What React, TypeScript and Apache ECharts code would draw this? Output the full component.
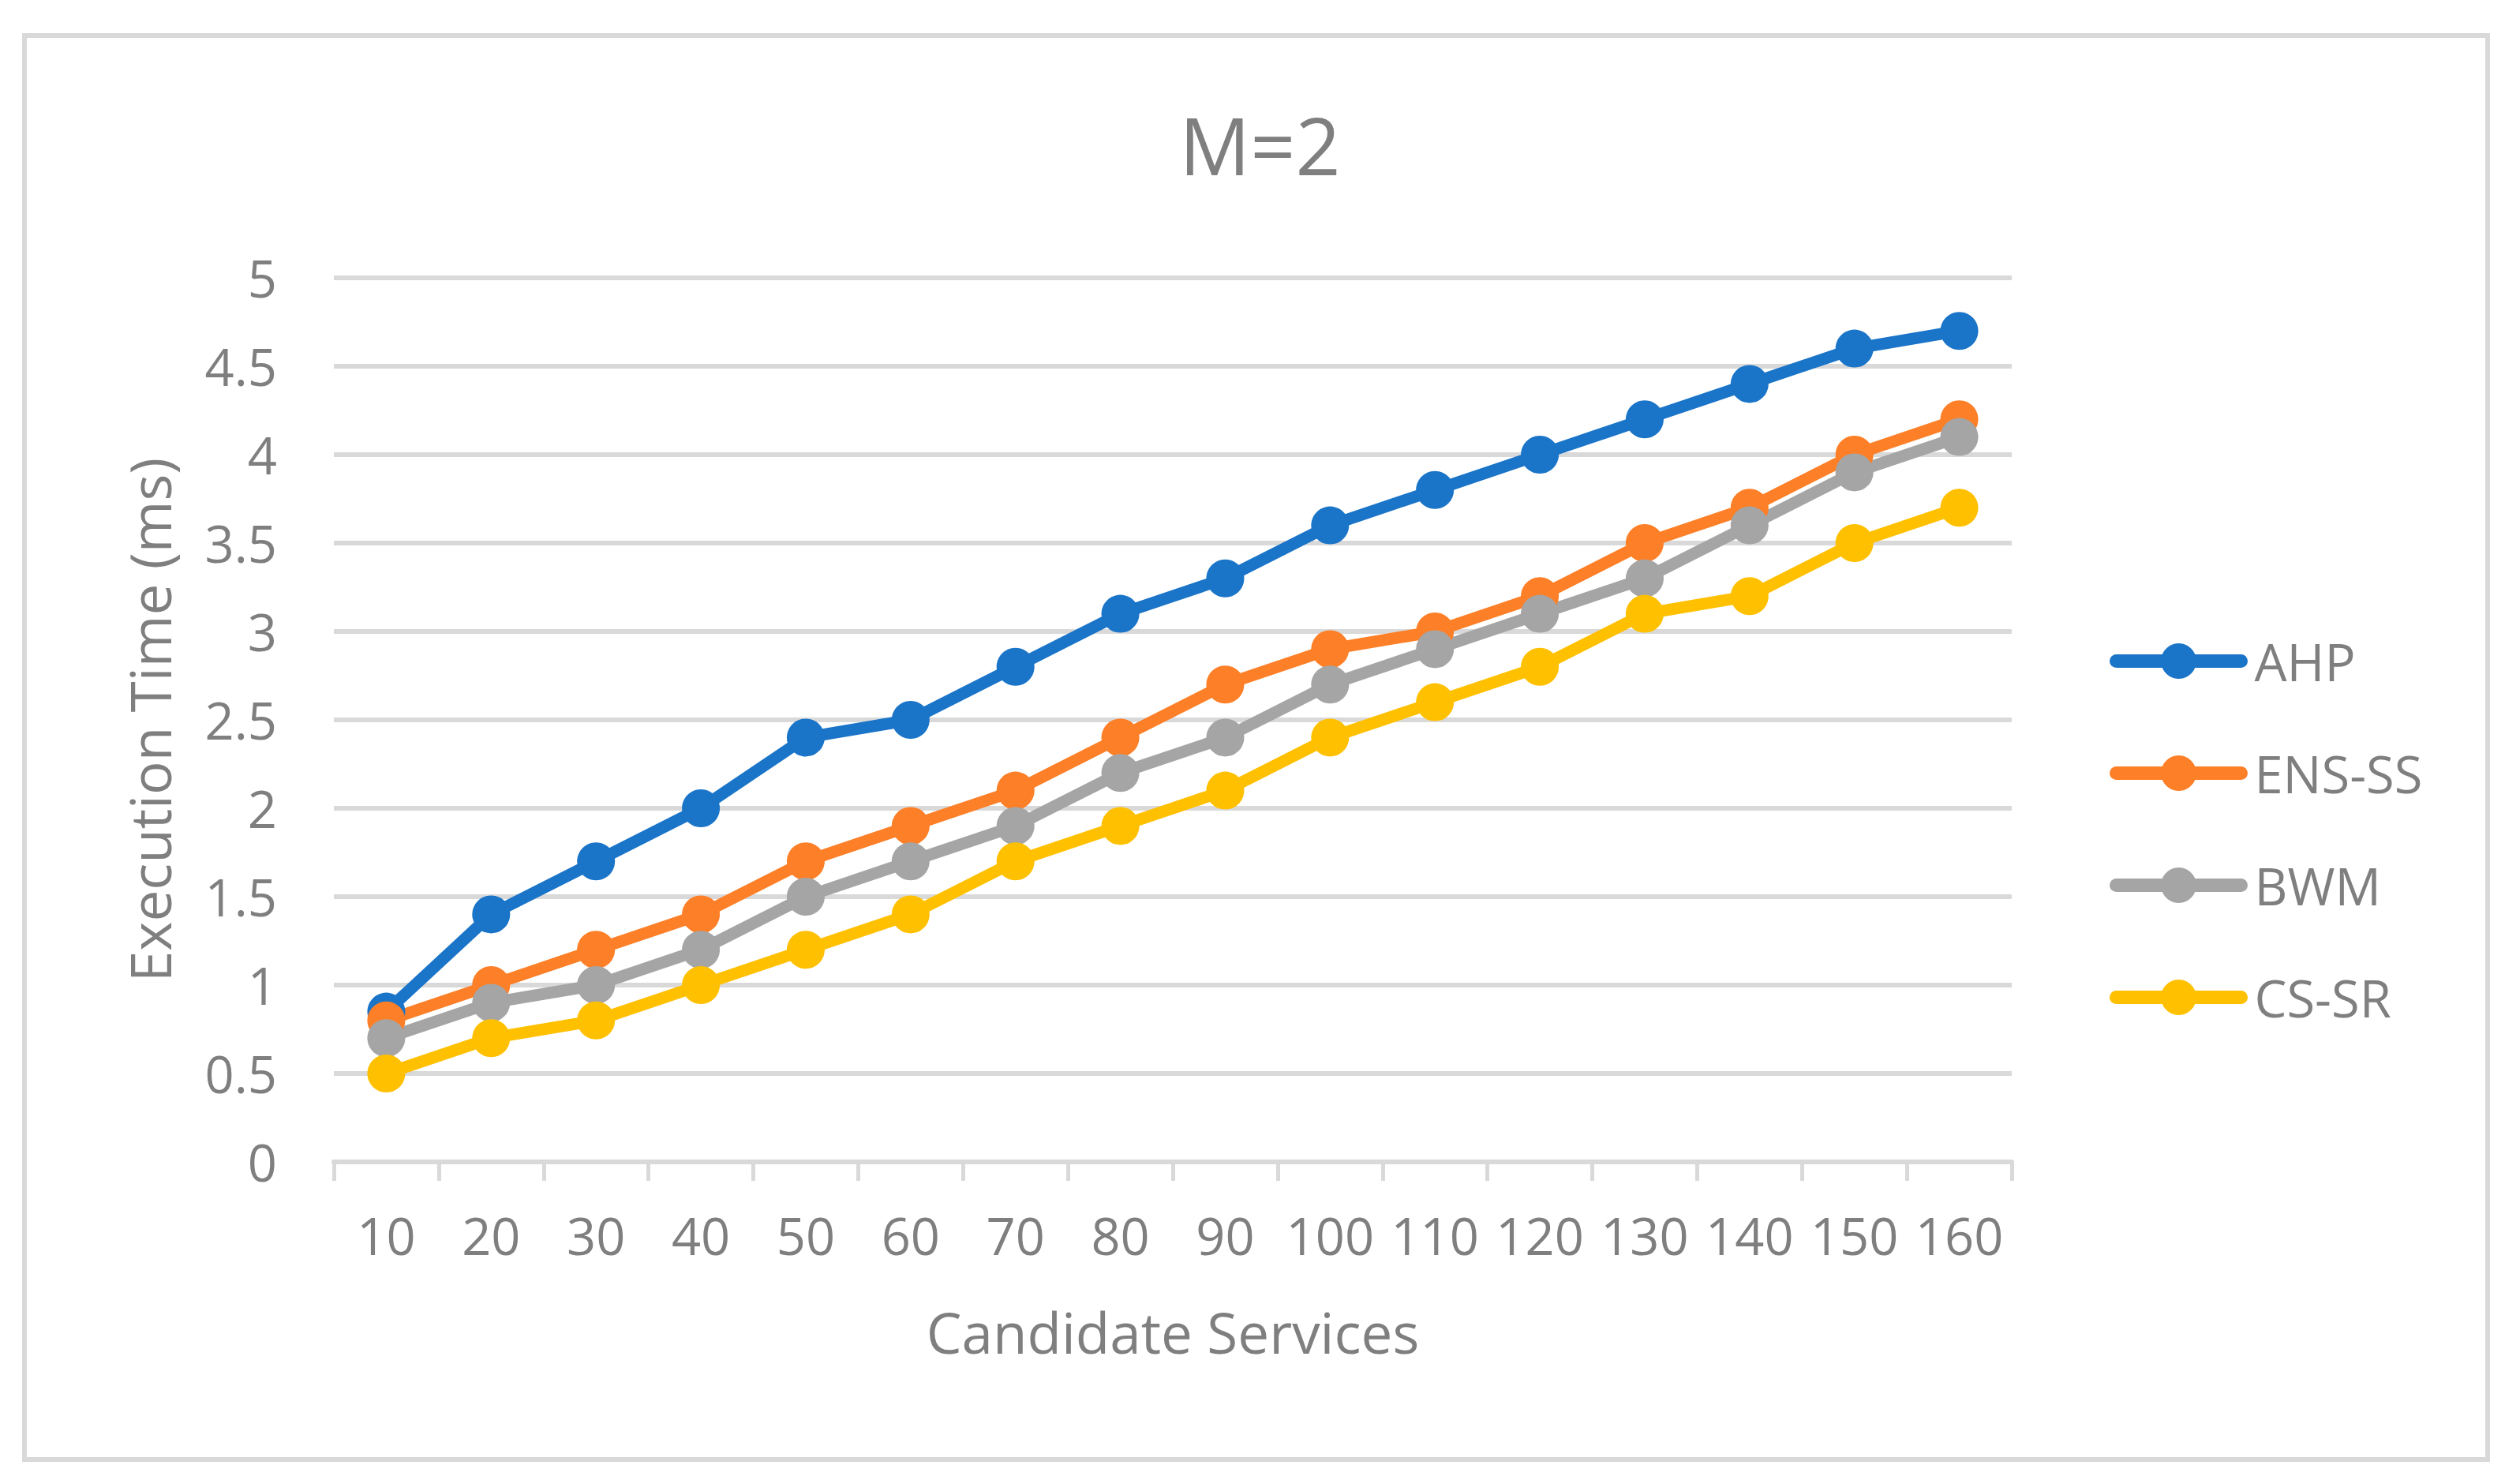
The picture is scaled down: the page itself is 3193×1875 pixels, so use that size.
import React, { useEffect, useRef } from "react";
import * as echarts from "echarts";

const categories = ["10", "20", "30", "40", "50", "60", "70", "80", "90", "100", "110", "120", "130", "140", "150", "160"];
const ahp = [0.85, 1.4, 1.7, 2.0, 2.4, 2.5, 2.8, 3.1, 3.3, 3.6, 3.8, 4.0, 4.2, 4.4, 4.6, 4.7];
const ensSs = [0.8, 1.0, 1.2, 1.4, 1.7, 1.9, 2.1, 2.4, 2.7, 2.9, 3.0, 3.2, 3.5, 3.7, 4.0, 4.2];
const bwm = [0.7, 0.9, 1.0, 1.2, 1.5, 1.7, 1.9, 2.2, 2.4, 2.7, 2.9, 3.1, 3.3, 3.6, 3.9, 4.1];
const csSr = [0.5, 0.7, 0.8, 1.0, 1.2, 1.4, 1.7, 1.9, 2.1, 2.4, 2.6, 2.8, 3.1, 3.2, 3.5, 3.7];

const seriesNames = ["AHP", "ENS-SS", "BWM", "CS-SR"];
const seriesData = [ahp, ensSs, bwm, csSr];
const colors = ["#1A74C8", "#FD7F27", "#A5A5A5", "#FFC000"];

const FONT = "'Open Sans', 'Noto Sans', sans-serif";
const TEXT = "#7F7F7F";
const GRID = "#D9D9D9";

export default function App() {
  const ref = useRef<HTMLDivElement>(null);
  useEffect(() => {
    if (!ref.current) return;
    const chart = echarts.init(ref.current, null, { renderer: "svg" });
    chart.setOption({
      animation: false,
      backgroundColor: "#FFFFFF",
      textStyle: { fontFamily: FONT, color: TEXT },
      title: {
        text: "M=2",
        left: "center",
        top: 128,
        textStyle: { fontSize: 100, fontWeight: "normal", color: TEXT, fontFamily: FONT },
      },
      graphic: [
        {
          type: "rect",
          z: -10,
          silent: true,
          shape: { x: 31, y: 45, width: 3121, height: 1804 },
          style: { fill: "none", stroke: GRID, lineWidth: 6 },
        },
      ],
      legend: {
        orient: "vertical",
        left: 2668,
        top: 800,
        itemWidth: 158,
        itemHeight: 56,
        itemGap: 77,
        data: seriesNames,
        lineStyle: { width: 17, cap: "round" },
        textStyle: { fontSize: 65, color: TEXT, fontFamily: FONT, padding: [0, 0, 0, 12] },
      },
      grid: { left: 423, right: 644, top: 352, bottom: 403, containLabel: false },
      xAxis: {
        type: "category",
        data: categories,
        boundaryGap: true,
        name: "Candidate Services",
        nameLocation: "middle",
        nameGap: 180,
        nameTextStyle: { fontSize: 71, color: TEXT, fontFamily: FONT },
        axisLine: { show: true, lineStyle: { color: GRID, width: 6 } },
        axisTick: { show: true, length: 24, lineStyle: { color: GRID, width: 5 } },
        axisLabel: { fontSize: 65, color: TEXT, margin: 60, fontFamily: FONT, interval: 0 },
        splitLine: { show: false },
      },
      yAxis: {
        type: "value",
        min: 0,
        max: 5,
        interval: 0.5,
        name: "Execution Time (ms)",
        nameLocation: "middle",
        nameGap: 198,
        nameRotate: 90,
        nameTextStyle: { fontSize: 71, color: TEXT, fontFamily: FONT },
        axisLine: { show: false },
        axisTick: { show: false },
        axisLabel: { fontSize: 65, color: TEXT, margin: 72, fontFamily: FONT },
        splitLine: { show: true, lineStyle: { color: GRID, width: 6 } },
      },
      series: seriesNames.map((name, i) => ({
        name,
        type: "line",
        data: seriesData[i],
        symbol: "circle",
        symbolSize: 48,
        showSymbol: true,
        lineStyle: { color: colors[i], width: 15 },
        itemStyle: { color: colors[i] },
        color: colors[i],
      })),
    });
    return () => chart.dispose();
  }, []);
  return (
    <div
      ref={ref}
      style={{ position: "absolute", left: 0, top: 0, width: 3193, height: 1875 }}
    />
  );
}
